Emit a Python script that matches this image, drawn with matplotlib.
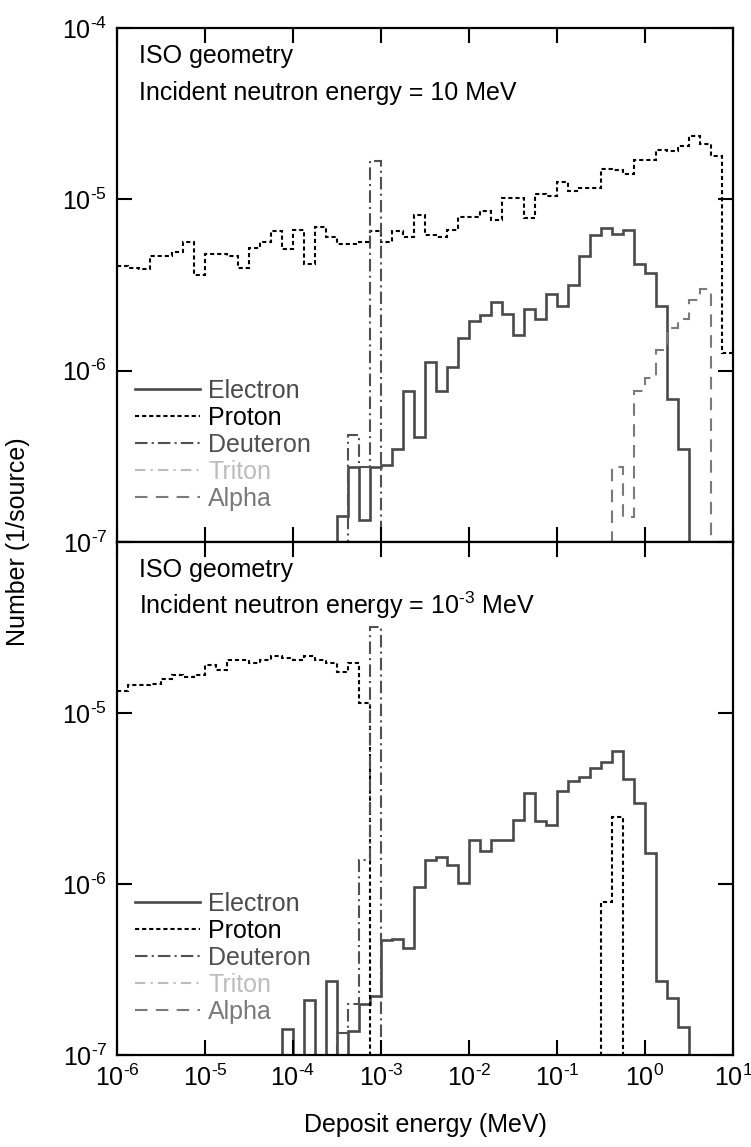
import numpy as np
import matplotlib
matplotlib.use("Agg")
import matplotlib.pyplot as plt
from matplotlib.ticker import LogLocator, FuncFormatter, NullLocator

plt.rcParams['font.family'] = ['Liberation Sans', 'DejaVu Sans']
plt.rcParams['mathtext.fontset'] = 'custom'
plt.rcParams['mathtext.rm'] = 'Liberation Sans'
plt.rcParams['mathtext.it'] = 'Liberation Sans:italic'
plt.rcParams['axes.unicode_minus'] = False

# 8 log bins per decade, 1e-6 .. 1e1 MeV
edges = 10 ** np.linspace(-6, 1, 57)

# ---- top panel: incident neutron energy = 10 MeV ----
top_electron = [0] * 20 + [
    1.41e-7, 2.75e-7, 1.35e-7, 2.75e-7, 2.8e-7, 3.5e-7, 7.6e-7, 4.1e-7,
    1.12e-6, 7.6e-7, 1.05e-6, 1.55e-6, 1.95e-6, 2.1e-6, 2.5e-6, 2.15e-6,
    1.62e-6, 2.3e-6, 2.0e-6, 2.8e-6, 2.4e-6, 3.16e-6, 4.7e-6, 6.2e-6,
    6.8e-6, 6.3e-6, 6.6e-6, 4.2e-6, 3.7e-6, 2.4e-6, 6.8e-7, 3.5e-7] + [0] * 4
top_proton = [
    4.1e-6, 4.0e-6, 3.9e-6, 4.7e-6, 4.7e-6, 4.9e-6, 5.6e-6, 3.6e-6,
    4.8e-6, 4.8e-6, 4.7e-6, 4.0e-6, 5.2e-6, 5.6e-6, 6.5e-6, 5.1e-6,
    6.6e-6, 4.2e-6, 6.9e-6, 6.0e-6, 5.5e-6, 5.5e-6, 5.6e-6, 6.5e-6,
    5.6e-6, 6.5e-6, 6.0e-6, 8.1e-6, 6.2e-6, 6.0e-6, 6.6e-6, 7.9e-6,
    7.9e-6, 8.5e-6, 7.6e-6, 1.02e-5, 1.02e-5, 7.8e-6, 1.07e-5, 1.05e-5,
    1.26e-5, 1.12e-5, 1.17e-5, 1.17e-5, 1.51e-5, 1.48e-5, 1.41e-5, 1.70e-5,
    1.70e-5, 1.95e-5, 1.91e-5, 2.04e-5, 2.34e-5, 2.09e-5, 1.78e-5, 1.26e-6]
top_deuteron = [0] * 21 + [4.2e-7, 2.75e-7, 1.68e-5] + [0] * 32
top_triton = [0] * 56
top_alpha = [0] * 45 + [
    2.75e-7, 1.4e-7, 7.6e-7, 9.1e-7, 1.32e-6, 1.78e-6, 2.0e-6, 2.6e-6,
    3.0e-6] + [0] * 2

# ---- bottom panel: incident neutron energy = 1e-3 MeV ----
bot_electron = [0] * 15 + [
    1.41e-7, 0, 2.1e-7, 0, 2.72e-7, 0, 1.38e-7, 2.0e-7,
    2.2e-7, 4.7e-7, 4.8e-7, 4.2e-7, 9.6e-7, 1.38e-6, 1.43e-6, 1.29e-6,
    1.01e-6, 1.81e-6, 1.55e-6, 1.82e-6, 1.80e-6, 2.37e-6, 3.4e-6, 2.34e-6,
    2.2e-6, 3.5e-6, 4.0e-6, 4.25e-6, 4.75e-6, 5.2e-6, 6.0e-6, 4.1e-6,
    2.96e-6, 1.51e-6, 2.7e-7, 2.15e-7, 1.45e-7] + [0] * 4
bot_proton = [
    1.35e-5, 1.45e-5, 1.45e-5, 1.48e-5, 1.58e-5, 1.66e-5, 1.62e-5, 1.66e-5,
    1.91e-5, 1.78e-5, 2.04e-5, 2.04e-5, 1.95e-5, 2.04e-5, 2.14e-5, 2.09e-5,
    2.04e-5, 2.14e-5, 2.04e-5, 1.95e-5, 1.74e-5, 1.97e-5, 1.15e-5] + [0] * 21 + [
    7.9e-7, 2.45e-6] + [0] * 10
bot_deuteron = [0] * 20 + [1.35e-7, 2.0e-7, 1.38e-6, 3.2e-5] + [0] * 32
bot_triton = [0] * 56
bot_alpha = [0] * 56

labels = ['Electron', 'Proton', 'Deuteron', 'Triton', 'Alpha']
colors = ['#4a4a4a', '#000000', '#505050', '#bdbdbd', '#7a7a7a']
styles = ['-', (0, (2, 1.4)), (0, (6, 2, 1, 2)), (0, (5, 2.5, 1, 2.5)), (0, (6, 4))]
widths = [1.9, 1.5, 1.5, 1.5, 1.5]

top_series = [top_electron, top_proton, top_deuteron, top_triton, top_alpha]
bot_series = [bot_electron, bot_proton, bot_deuteron, bot_triton, bot_alpha]

FS = 18

W, H = 751, 1147
fig = plt.figure(figsize=(W / 100, H / 100), dpi=100)
ax_top = fig.add_axes([117 / W, (H - 542) / H, 616 / W, 514 / H])
ax_bot = fig.add_axes([117 / W, (H - 1055) / H, 616 / W, 513 / H])


def sci(v, pos):
    e = int(round(np.log10(v)))
    if e < 0:
        return r'$\mathregular{10^{\text{-}%d}}$' % -e
    return r'$\mathregular{10^{%d}}$' % e


def draw(ax, series, title):
    for vals, lab, c, ls, lw in zip(series, labels, colors, styles, widths):
        v = np.array(vals, dtype=float)
        if v.max() > 0:
            v[v <= 0] = 1e-12
            ax.stairs(v, edges, baseline=None, color=c, linestyle=ls,
                      linewidth=lw, label=lab)
        else:
            ax.plot([], [], color=c, linestyle=ls, linewidth=lw, label=lab)
    ax.set_xscale('log')
    ax.set_yscale('log')
    ax.set_xlim(1e-6, 1e1)
    ax.set_ylim(1e-7, 1e-4)
    ax.xaxis.set_major_locator(LogLocator(base=10, numticks=20))
    ax.yaxis.set_major_locator(LogLocator(base=10, numticks=20))
    ax.xaxis.set_minor_locator(NullLocator())
    ax.yaxis.set_minor_locator(NullLocator())
    ax.tick_params(which='major', direction='in', length=11, width=1.5,
                   top=True, right=True, labelsize=FS, pad=7)
    for s in ax.spines.values():
        s.set_linewidth(1.6)
    ax.text(0.036, 0.932, 'ISO geometry', transform=ax.transAxes,
            fontsize=FS, va='baseline')
    ax.text(0.036, 0.860, title, transform=ax.transAxes,
            fontsize=FS, va='baseline')
    leg = ax.legend(loc='upper left', bbox_to_anchor=(0.0, 0.352),
                    frameon=False, fontsize=FS, handlelength=2.6,
                    handletextpad=0.35, labelspacing=0.12, borderaxespad=0.3,
                    labelcolor='linecolor')
    return leg


draw(ax_top, top_series, 'Incident neutron energy = 10 MeV')
draw(ax_bot, bot_series, r'Incident neutron energy = 10$^{\text{-}3}$ MeV')

ax_top.xaxis.set_major_formatter(FuncFormatter(lambda v, p: ''))
ax_top.yaxis.set_major_formatter(FuncFormatter(sci))
ax_bot.xaxis.set_major_formatter(FuncFormatter(sci))
ax_bot.yaxis.set_major_formatter(
    FuncFormatter(lambda v, p: '' if v > 5e-5 else sci(v, p)))

fig.text(18 / W, 1 - 542 / H, 'Number (1/source)', rotation=90,
         fontsize=FS, va='center', ha='center')
fig.text(425 / W, 1 - 1125 / H, 'Deposit energy (MeV)',
         fontsize=FS, va='center', ha='center')

fig.savefig('out.png', dpi=100)
